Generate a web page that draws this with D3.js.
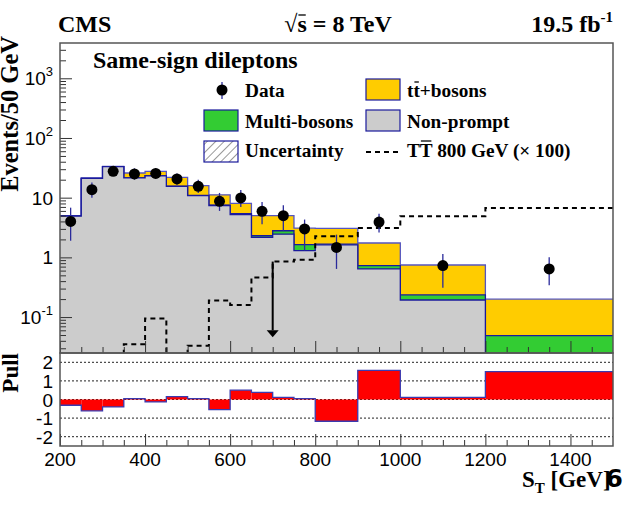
<!DOCTYPE html>
<html>
<head>
<meta charset="utf-8">
<script src="https://cdn.jsdelivr.net/npm/d3@7"></script>
<style>
  body { margin: 0; background: #fff; }
  .serif { font-family: "Liberation Serif", "Times New Roman", serif; font-weight: bold; }
  .sans { font-family: "Liberation Sans", Arial, sans-serif; }
</style>
</head>
<body>
<div id="chart"></div>
<script>
// S_T bin edges (GeV)
var binEdges = [200, 250, 300, 350, 400, 450, 500, 550, 600, 650, 700, 750, 800, 900, 1000, 1200, 1500];

// backgrounds, events / 50 GeV
var nonPrompt   = [4.9, 21, 33, 21.4, 23.3, 15.5, 10.8, 7.4, 5.2, 2.16, 2.45, 1.3, 1.62, 0.64, 0.193, 0.01];
var multiBosons = [0.03, 0.1, 0.1, 0.1, 0.1, 0.08, 0.08, 0.08, 0.2, 0.14, 0.34, 0.33, 0.05, 0.09, 0.042, 0.039];
var ttBosons    = [0.07, 0.3, 0.3, 4.4, 4.2, 6.3, 5.0, 3.7, 2.6, 2.7, 2.2, 1.47, 1.38, 1.01, 0.51, 0.15];

// data with error bar ends
var dataVals = [4, 13.6, 27.6, 25, 25.5, 20.6, 15.5, 8.7, 9.9, 5.9, 5.0, 3.0, 1.47, 3.9, 0.73, 0.64];
var dataLo   = [1.9, 10, 23, 20, 21, 16.5, 12, 6, 7, 3.6, 2.8, 1.3, 0.64, 2.6, 0.31, 0.34];
var dataHi   = [6.8, 18, 33, 31, 31, 25.5, 20, 12, 13.5, 8.5, 7.5, 4.3, 2.4, 5.4, 1.14, 1.0];

// T Tbar 800 GeV signal (x 100)
var signalVals = [0, 0, 0, 0.035, 0.095, 0, 0.033, 0.19, 0.16, 0.46, 0.85, 0.91, 2.25, 3.1, 4.9, 6.7];

// pull per bin
var pullVals = [-0.31, -0.61, -0.4, 0.05, -0.13, 0.15, 0.05, -0.54, 0.5, 0.38, 0.11, 0.05, -1.17, 1.57, 0.11, 1.5];

// axis ticks
var xMajor = [200, 400, 600, 800, 1000, 1200, 1400];
var yMajor = [0.1, 1, 10, 100, 1000];
var pullTicks = [2, 1, 0, -1, -2];

var width = 644, height = 505;
var mLeft = 60, mRight = 613, mTop = 43, mMid = 353, mBottom = 446;

var svg = d3.select("#chart").append("svg")
    .attr("width", width)
    .attr("height", height);

var x = d3.scaleLinear().domain([200, 1500]).range([mLeft, mRight]);
var y = d3.scaleLog().domain([0.025, 3900]).range([mMid, mTop]);
var yPull = d3.scaleLinear().domain([-2.5, 2.5]).range([mBottom, mMid]);

var navy = "#1a1a9c";

// clip for main panel
svg.append("clipPath").attr("id", "clipMain")
  .append("rect").attr("x", mLeft).attr("y", mTop).attr("width", mRight - mLeft).attr("height", mMid - mTop);

function yc(v) { return v < 0.025 ? mMid + 5 : y(v); }

// step outline for a histogram
function stepLine(vals, ys) {
  var p = "M" + x(binEdges[0]) + "," + ys(vals[0]);
  vals.forEach(function(v, i) {
    p += "L" + x(binEdges[i]) + "," + ys(v) + "L" + x(binEdges[i + 1]) + "," + ys(v);
  });
  return p;
}
function stepArea(vals, ys, base) {
  var p = "M" + x(binEdges[0]) + "," + base;
  vals.forEach(function(v, i) {
    p += "L" + x(binEdges[i]) + "," + ys(v) + "L" + x(binEdges[i + 1]) + "," + ys(v);
  });
  return p + "L" + x(binEdges[binEdges.length - 1]) + "," + base + "Z";
}

// cumulative stack
var cumGrey = nonPrompt.slice();
var cumGreen = nonPrompt.map(function(v, i) { return v + multiBosons[i]; });
var cumTotal = cumGreen.map(function(v, i) { return v + ttBosons[i]; });

var plot = svg.append("g").attr("clip-path", "url(#clipMain)");

var layers = [[cumTotal, "#ffcc00"], [cumGreen, "#33cc33"], [cumGrey, "#cccccc"]];
layers.forEach(function(l) {
  plot.append("path").attr("d", stepArea(l[0], yc, mMid + 5)).attr("fill", l[1]).attr("stroke", "none");
  plot.append("path").attr("d", stepLine(l[0], yc)).attr("fill", "none")
    .attr("stroke", l[0] === cumTotal ? "#5555c0" : navy).attr("stroke-width", 1.3);
});

// signal dashed
plot.append("path")
  .attr("d", stepLine(signalVals, function(v) { return v <= 0 ? mMid + 10 : y(v); }))
  .attr("fill", "none").attr("stroke", "#000").attr("stroke-width", 2)
  .attr("stroke-dasharray", "5,4");

// arrow at 700 GeV
plot.append("line")
  .attr("x1", x(700)).attr("x2", x(700)).attr("y1", y(0.85)).attr("y2", y(0.06))
  .attr("stroke", "#000").attr("stroke-width", 2);
plot.append("path")
  .attr("d", "M" + (x(700) - 6) + "," + y(0.06) + "L" + (x(700) + 6) + "," + y(0.06) + "L" + x(700) + "," + (y(0.06) + 7) + "Z")
  .attr("fill", "#000");

// data points
var centers = dataVals.map(function(d, i) { return (binEdges[i] + binEdges[i + 1]) / 2; });
plot.selectAll(".err").data(dataVals).enter().append("line")
  .attr("x1", function(d, i) { return x(centers[i]); })
  .attr("x2", function(d, i) { return x(centers[i]); })
  .attr("y1", function(d, i) { return y(dataLo[i]); })
  .attr("y2", function(d, i) { return y(dataHi[i]); })
  .attr("stroke", "#2b2b9b").attr("stroke-width", 1.3);
plot.selectAll(".pt").data(dataVals).enter().append("circle")
  .attr("cx", function(d, i) { return x(centers[i]); })
  .attr("cy", function(d) { return y(d); })
  .attr("r", 5.5).attr("fill", "#000");

// pull panel
var pullG = svg.append("g");
pullTicks.forEach(function(t) {
  pullG.append("line").attr("x1", mLeft).attr("x2", mRight).attr("y1", yPull(t)).attr("y2", yPull(t))
    .attr("stroke", "#222").attr("stroke-width", 1).attr("stroke-dasharray", "2,2");
});
pullG.selectAll(".pb").data(pullVals).enter().append("rect")
  .attr("x", function(d, i) { return x(binEdges[i]); })
  .attr("width", function(d, i) { return x(binEdges[i + 1]) - x(binEdges[i]); })
  .attr("y", function(d) { return Math.min(yPull(d), yPull(0)); })
  .attr("height", function(d) { return Math.abs(yPull(d) - yPull(0)); })
  .attr("fill", "#ff0000");
pullG.append("path").attr("d", stepLine(pullVals, yPull)).attr("fill", "none")
  .attr("stroke", "#3a3ab0").attr("stroke-width", 1.3);

// axes ticks
var xMinor = d3.range(250, 1500, 50).filter(function(v) { return v % 200 !== 0; });
function tickAxis(axis) {
  return function(g) { g.call(axis); g.select(".domain").remove(); g.selectAll("line").attr("stroke", "#333"); };
}
[mMid, mBottom].forEach(function(yy) {
  svg.append("g").attr("transform", "translate(0," + yy + ")")
    .call(tickAxis(d3.axisBottom(x).tickValues(xMajor).tickSize(-12).tickFormat("")));
  svg.append("g").attr("transform", "translate(0," + yy + ")")
    .call(tickAxis(d3.axisBottom(x).tickValues(xMinor).tickSize(-6).tickFormat("")));
});
var yMinor = [];
[0.01, 0.1, 1, 10, 100, 1000].forEach(function(dec) {
  for (var k = 2; k <= 9; k++) { var v = k * dec; if (v > 0.025 && v < 3900) yMinor.push(v); }
});
svg.append("g").attr("transform", "translate(" + mLeft + ",0)")
  .call(tickAxis(d3.axisLeft(y).tickValues(yMajor).tickSize(-12).tickFormat("")));
svg.append("g").attr("transform", "translate(" + mLeft + ",0)")
  .call(tickAxis(d3.axisLeft(y).tickValues(yMinor).tickSize(-6).tickFormat("")));

// frames
[[mTop, mMid], [mMid, mBottom]].forEach(function(f) {
  svg.append("rect").attr("x", mLeft).attr("y", f[0]).attr("width", mRight - mLeft).attr("height", f[1] - f[0])
    .attr("fill", "none").attr("stroke", "#555").attr("stroke-width", 1.5);
});

// tick labels
svg.selectAll(".xl").data(xMajor).enter().append("text").attr("class", "sans")
  .attr("x", function(d) { return x(d); }).attr("y", 466)
  .attr("text-anchor", "middle").attr("font-size", 19).text(function(d) { return d; });

var yLabels = [["10", "3"], ["10", "2"], ["10", ""], ["1", ""], ["10", "-1"]];
yMajor.slice().reverse().forEach(function(v, i) {
  var t = svg.append("text").attr("class", "sans").attr("x", 53).attr("y", y(v) + 7)
    .attr("text-anchor", "end").attr("font-size", 19);
  t.append("tspan").text(yLabels[i][0]);
  if (yLabels[i][1]) t.append("tspan").attr("dy", -9).attr("font-size", 13).text(yLabels[i][1]);
});
pullTicks.forEach(function(v) {
  svg.append("text").attr("class", "sans").attr("x", 53).attr("y", yPull(v) + 7)
    .attr("text-anchor", "end").attr("font-size", 19).text(v);
});

// axis titles
svg.append("text").attr("class", "serif").attr("font-size", 24.5)
  .attr("transform", "translate(18,36) rotate(-90)").attr("text-anchor", "end").text("Events/50 GeV");
svg.append("text").attr("class", "serif").attr("font-size", 23)
  .attr("transform", "translate(18,353) rotate(-90)").attr("text-anchor", "end").text("Pull");
var xt = svg.append("text").attr("class", "serif").attr("font-size", 23).attr("x", 522).attr("y", 487);
xt.append("tspan").text("S");
xt.append("tspan").attr("dy", 6).attr("font-size", 15).text("T");
xt.append("tspan").attr("dy", -6).text(" [GeV]");
svg.append("text").attr("font-family", "DejaVu Sans").attr("font-weight", "bold").attr("font-size", 25)
  .attr("x", 623).attr("y", 487).attr("text-anchor", "end").text("6");

// header
svg.append("text").attr("class", "serif").attr("font-size", 24).attr("x", 58).attr("y", 32).text("CMS");
var rs = svg.append("text").attr("class", "serif").attr("font-size", 24).attr("x", 338).attr("y", 32)
  .attr("text-anchor", "middle").text("\u221As = 8 TeV");
var lumi = svg.append("text").attr("class", "serif").attr("font-size", 24).attr("x", 613).attr("y", 32)
  .attr("text-anchor", "end");
lumi.append("tspan").text("19.5 fb");
lumi.append("tspan").attr("dy", -10).attr("font-size", 15).text("-1");

// overline over a single character of a text node
function overline(textSel, idx, lift) {
  var e = textSel.node().getExtentOfChar(idx);
  svg.append("line").attr("x1", e.x + 1).attr("x2", e.x + e.width - 1)
    .attr("y1", e.y + lift).attr("y2", e.y + lift).attr("stroke", "#000").attr("stroke-width", 1.3);
}
overline(rs, 1, 4);

// legend
var leg = svg.append("g");
leg.append("text").attr("class", "serif").attr("font-size", 24).attr("x", 93).attr("y", 68).text("Same-sign dileptons");

var defs = svg.append("defs");
var pat = defs.append("pattern").attr("id", "hatch").attr("patternUnits", "userSpaceOnUse")
  .attr("width", 6).attr("height", 6).attr("patternTransform", "rotate(45)");
pat.append("line").attr("x1", 0).attr("y1", 0).attr("x2", 0).attr("y2", 6).attr("stroke", "#333").attr("stroke-width", 1);

var legBoxes = [
  [204, 110, "#33cc33"], [366, 79, "#ffcc00"], [366, 110, "#cccccc"], [204, 141, "url(#hatch)"]
];
legBoxes.forEach(function(b) {
  leg.append("rect").attr("x", b[0]).attr("y", b[1]).attr("width", 34).attr("height", 21)
    .attr("fill", b[2]).attr("stroke", navy).attr("stroke-width", 1.2);
});
leg.append("line").attr("x1", 222).attr("x2", 222).attr("y1", 82).attr("y2", 99).attr("stroke", "#2b2b9b").attr("stroke-width", 1.3);
leg.append("circle").attr("cx", 222).attr("cy", 90).attr("r", 5.5).attr("fill", "#000");
leg.append("line").attr("x1", 366).attr("x2", 400).attr("y1", 152).attr("y2", 152)
  .attr("stroke", "#000").attr("stroke-width", 2).attr("stroke-dasharray", "5,4");

var legText = [[245, 97, "Data"], [245, 128, "Multi-bosons"], [245, 157, "Uncertainty"],
               [407, 97, "tt+bosons"], [407, 128, "Non-prompt"], [407, 157, "TT 800 GeV (\u00D7 100)"]];
var legNodes = legText.map(function(t) {
  return leg.append("text").attr("class", "serif").attr("font-size", 19.3).attr("x", t[0]).attr("y", t[1]).text(t[2]);
});
overline(legNodes[3], 1, 2);
overline(legNodes[5], 1, 1);
</script>
</body>
</html>
